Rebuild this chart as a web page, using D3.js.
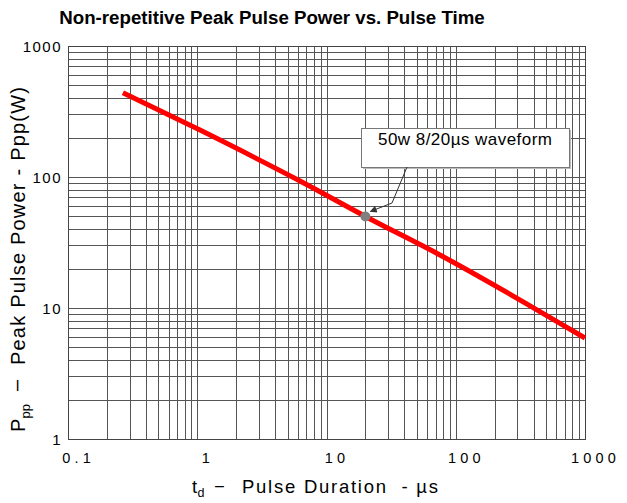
<!DOCTYPE html>
<html>
<head>
<meta charset="utf-8">
<script src="https://cdn.jsdelivr.net/npm/d3@7"></script>
<style>
  body { margin: 0; background: #fff; }
  text { font-family: "Liberation Sans", Arial, sans-serif; fill: #000; white-space: pre; }
</style>
</head>
<body>
<svg id="chart" width="627" height="503"></svg>
<script>
// ---- data ----
const durations = [0.266, 1.05, 6.24, 20, 75.5, 1000];   // µs
const powers    = [440, 228, 93.2, 50, 25.4, 5.9];        // W
const markDuration = 20, markPower = 50;
const xTicks = [0.1, 1, 10, 100, 1000];
const yTicks = [1, 10, 100, 1000];
const noteText = "50w 8/20µs waveform";

const svg = d3.select("#chart");
const m = { left: 68, right: 585, top: 46, bottom: 439 };

const x = d3.scaleLog().domain([0.1, 1000]).range([m.left, m.right]);
const y = d3.scaleLog().domain([1, 1000]).range([m.bottom, m.top]);

// minor + major grid values per decade
const gridVals = (lo, hi) => {
    const out = [];
    for (let d = lo; d < hi; d *= 10)
        for (let k = 1; k <= 9; k++) out.push(d * k);
    out.push(hi);
    return out;
};

const grid = svg.append("g")
    .attr("stroke", "#555")
    .attr("stroke-width", 1)
    .attr("shape-rendering", "crispEdges");

grid.selectAll(".gx").data(gridVals(0.1, 1000)).join("line")
    .attr("x1", d => Math.round(x(d)) + 0.5).attr("x2", d => Math.round(x(d)) + 0.5)
    .attr("y1", m.top).attr("y2", m.bottom);

grid.selectAll(".gy").data(gridVals(1, 1000)).join("line")
    .attr("y1", d => Math.round(y(d)) + 0.5).attr("y2", d => Math.round(y(d)) + 0.5)
    .attr("x1", m.left).attr("x2", m.right);

svg.append("rect")
    .attr("x", m.left + 0.5).attr("y", m.top + 0.5)
    .attr("width", m.right - m.left).attr("height", m.bottom - m.top)
    .attr("fill", "none").attr("stroke", "#444");

// axes tick labels
svg.append("g").selectAll("text").data(xTicks).join("text")
    .attr("x", d => x(d) + 10.6)
    .attr("y", 463)
    .attr("text-anchor", "middle")
    .attr("font-family", "DejaVu Sans")
    .attr("font-size", 14.5)
    .attr("letter-spacing", 4.2)
    .text(d => d);

svg.append("g").selectAll("text").data(yTicks).join("text")
    .attr("x", 62)
    .attr("y", d => y(d) + 5.5)
    .attr("text-anchor", "end")
    .attr("font-size", 15)
    .attr("letter-spacing", 1.5)
    .text(d => d);

// curve
const line = d3.line()
    .x((d, i) => x(durations[i]))
    .y(d => y(d))
    .curve(d3.curveMonotoneX);

svg.append("path")
    .datum(powers)
    .attr("d", line)
    .attr("fill", "none")
    .attr("stroke", "#ff0000")
    .attr("stroke-width", 5);

// annotation
const bx = 361, by = 128, bw = 208, bh = 39;
svg.append("rect")
    .attr("x", bx + 2).attr("y", by + 2).attr("width", bw).attr("height", bh)
    .attr("fill", "#bbb");
svg.append("rect")
    .attr("x", bx + 0.5).attr("y", by + 0.5).attr("width", bw).attr("height", bh)
    .attr("fill", "#fff").attr("stroke", "#777");
svg.append("text")
    .attr("x", 378).attr("y", 145)
    .attr("font-size", 17)
    .attr("textLength", 174).attr("lengthAdjust", "spacing")
    .text(noteText);

svg.append("defs").append("marker")
    .attr("id", "ah").attr("viewBox", "0 0 10 10")
    .attr("refX", 9).attr("refY", 5)
    .attr("markerWidth", 9).attr("markerHeight", 7)
    .attr("orient", "auto-start-reverse")
    .append("path").attr("d", "M0,0L10,5L0,10z").attr("fill", "#333");

const px = x(markDuration), py = y(markPower);
svg.append("path")
    .attr("d", `M407,${by + bh} L392,203 L${px + 5},${py - 5}`)
    .attr("fill", "none").attr("stroke", "#333").attr("stroke-width", 1)
    .attr("marker-end", "url(#ah)");

svg.append("circle")
    .attr("cx", px).attr("cy", py).attr("r", 5)
    .attr("fill", "#808080");

// titles
svg.append("text")
    .attr("x", 272).attr("y", 24)
    .attr("text-anchor", "middle")
    .attr("font-size", 18.7).attr("font-weight", "bold")
    .text("Non-repetitive Peak Pulse Power vs. Pulse Time");

// x axis title
const xt = svg.append("g").attr("font-size", 18.5);
xt.append("text").attr("x", 192).attr("y", 493).text("t");
xt.append("text").attr("x", 197.5).attr("y", 497).attr("font-size", 12.5).text("d");
xt.append("text").attr("x", 215).attr("y", 491).attr("font-size", 16).text("\u2013");
xt.append("text").attr("x", 242).attr("y", 493)
    .attr("textLength", 196).attr("lengthAdjust", "spacing")
    .text("Pulse Duration  - µs");

// y axis title (rotated)
const yt = svg.append("g").attr("font-size", 20);
const rot = (yy, dx = 0) => `translate(${25 + dx},${yy}) rotate(-90)`;
yt.append("text").attr("transform", rot(432)).text("P");
yt.append("text").attr("transform", rot(418.5, 5)).attr("font-size", 13).text("pp");
yt.append("text").attr("transform", rot(391, -2)).text("\u2013");
yt.append("text").attr("transform", rot(365))
    .attr("textLength", 278).attr("lengthAdjust", "spacing")
    .text("Peak Pulse Power - Ppp(W)");
</script>
</body>
</html>
